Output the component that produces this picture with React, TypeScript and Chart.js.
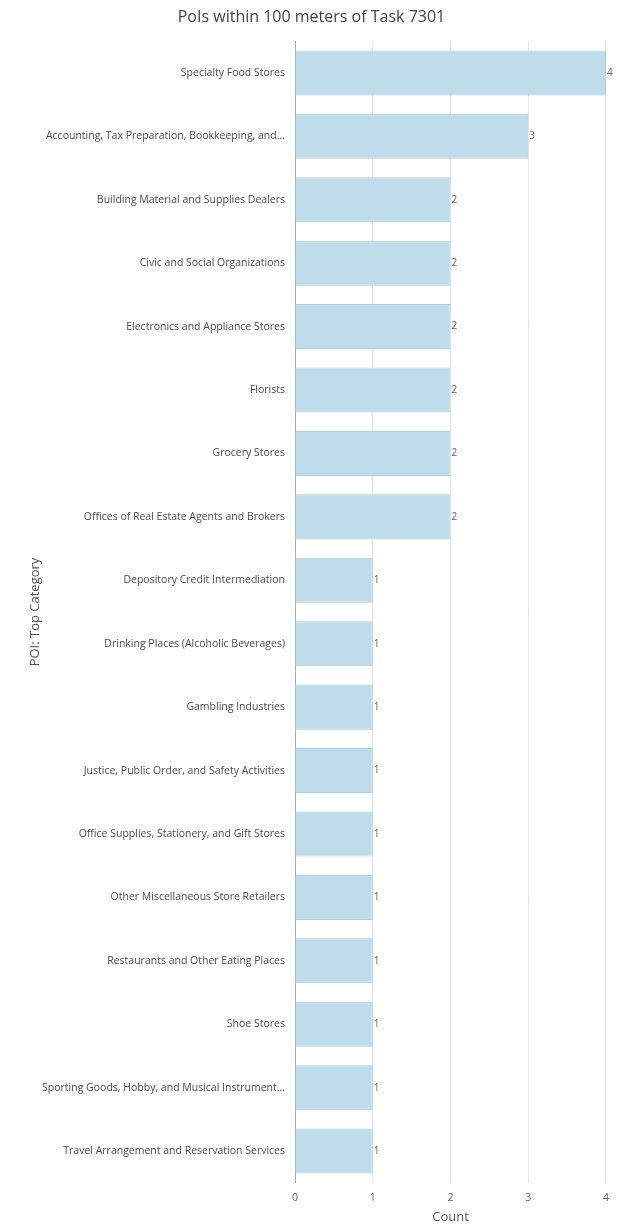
import React, { useEffect, useRef } from "react";
import { Chart, registerables } from "chart.js";

Chart.register(...registerables);

const categories = [
  "Specialty Food Stores",
  "Accounting, Tax Preparation, Bookkeeping, and...",
  "Building Material and Supplies Dealers",
  "Civic and Social Organizations",
  "Electronics and Appliance Stores",
  "Florists",
  "Grocery Stores",
  "Offices of Real Estate Agents and Brokers",
  "Depository Credit Intermediation",
  "Drinking Places (Alcoholic Beverages)",
  "Gambling Industries",
  "Justice, Public Order, and Safety Activities",
  "Office Supplies, Stationery, and Gift Stores",
  "Other Miscellaneous Store Retailers",
  "Restaurants and Other Eating Places",
  "Shoe Stores",
  "Sporting Goods, Hobby, and Musical Instrument...",
  "Travel Arrangement and Reservation Services",
];

const counts = [4, 3, 2, 2, 2, 2, 2, 2, 1, 1, 1, 1, 1, 1, 1, 1, 1, 1];

const titleText = "PoIs within 100 meters of Task 7301";
const xTitle = "Count";
const yTitle = "POI: Top Category";

const FONT = "'Open Sans', 'Noto Sans', sans-serif";

const valueLabels = {
  id: "valueLabels",
  afterDatasetsDraw(chart: any) {
    const ctx = chart.ctx;
    const meta = chart.getDatasetMeta(0);
    ctx.save();
    ctx.font = `10px ${FONT}`;
    ctx.fillStyle = "#666";
    ctx.textAlign = "left";
    ctx.textBaseline = "middle";
    meta.data.forEach((el: any, i: number) => {
      ctx.fillText(String(counts[i]), el.x + 1, el.y);
    });
    ctx.restore();
  },
};

export default function App() {
  const ref = useRef<HTMLCanvasElement>(null);
  useEffect(() => {
    if (!ref.current) return;
    const chart = new Chart(ref.current, {
      type: "bar",
      data: {
        labels: categories,
        datasets: [
          {
            data: counts,
            backgroundColor: "rgba(190, 220, 234, 1)",
            borderColor: "rgba(172, 208, 227, 1)",
            borderWidth: 1,
            categoryPercentage: 0.71,
            barPercentage: 1,
          },
        ],
      },
      options: {
        indexAxis: "y",
        animation: false,
        responsive: true,
        maintainAspectRatio: false,
        layout: { padding: { left: 8, right: 11, top: 0, bottom: 0 } },
        plugins: {
          legend: { display: false },
          tooltip: { enabled: false },
          title: {
            display: true,
            text: titleText,
            color: "#444",
            font: { family: FONT, size: 16, weight: "normal" },
            padding: { top: 0, bottom: 14 },
          },
        },
        scales: {
          x: {
            min: 0,
            max: 4,
            ticks: {
              stepSize: 1,
              color: "#666",
              font: { family: FONT, size: 10.5 },
              padding: 9,
            },
            grid: { color: "#e6e6e6", drawTicks: false },
            border: { display: false },
            title: {
              display: true,
              text: xTitle,
              color: "#555",
              font: { family: FONT, size: 13 },
              padding: { top: -4, bottom: 0 },
            },
          },
          y: {
            ticks: {
              color: "#4a4a4a",
              font: { family: FONT, size: 10.5 },
              padding: 10,
              autoSkip: false,
            },
            grid: { display: false, drawTicks: false },
            border: { display: true, color: "#aaa" },
            title: {
              display: true,
              text: yTitle,
              color: "#555",
              font: { family: FONT, size: 13 },
              padding: { top: 11, bottom: 4 },
            },
            afterFit(scale: any) {
              scale.width = 279;
            },
          },
        },
      },
      plugins: [valueLabels],
    });
    return () => chart.destroy();
  }, []);
  return (
    <div style={{ width: 610, height: 1217, position: "relative" }}>
      <canvas ref={ref} />
    </div>
  );
}
